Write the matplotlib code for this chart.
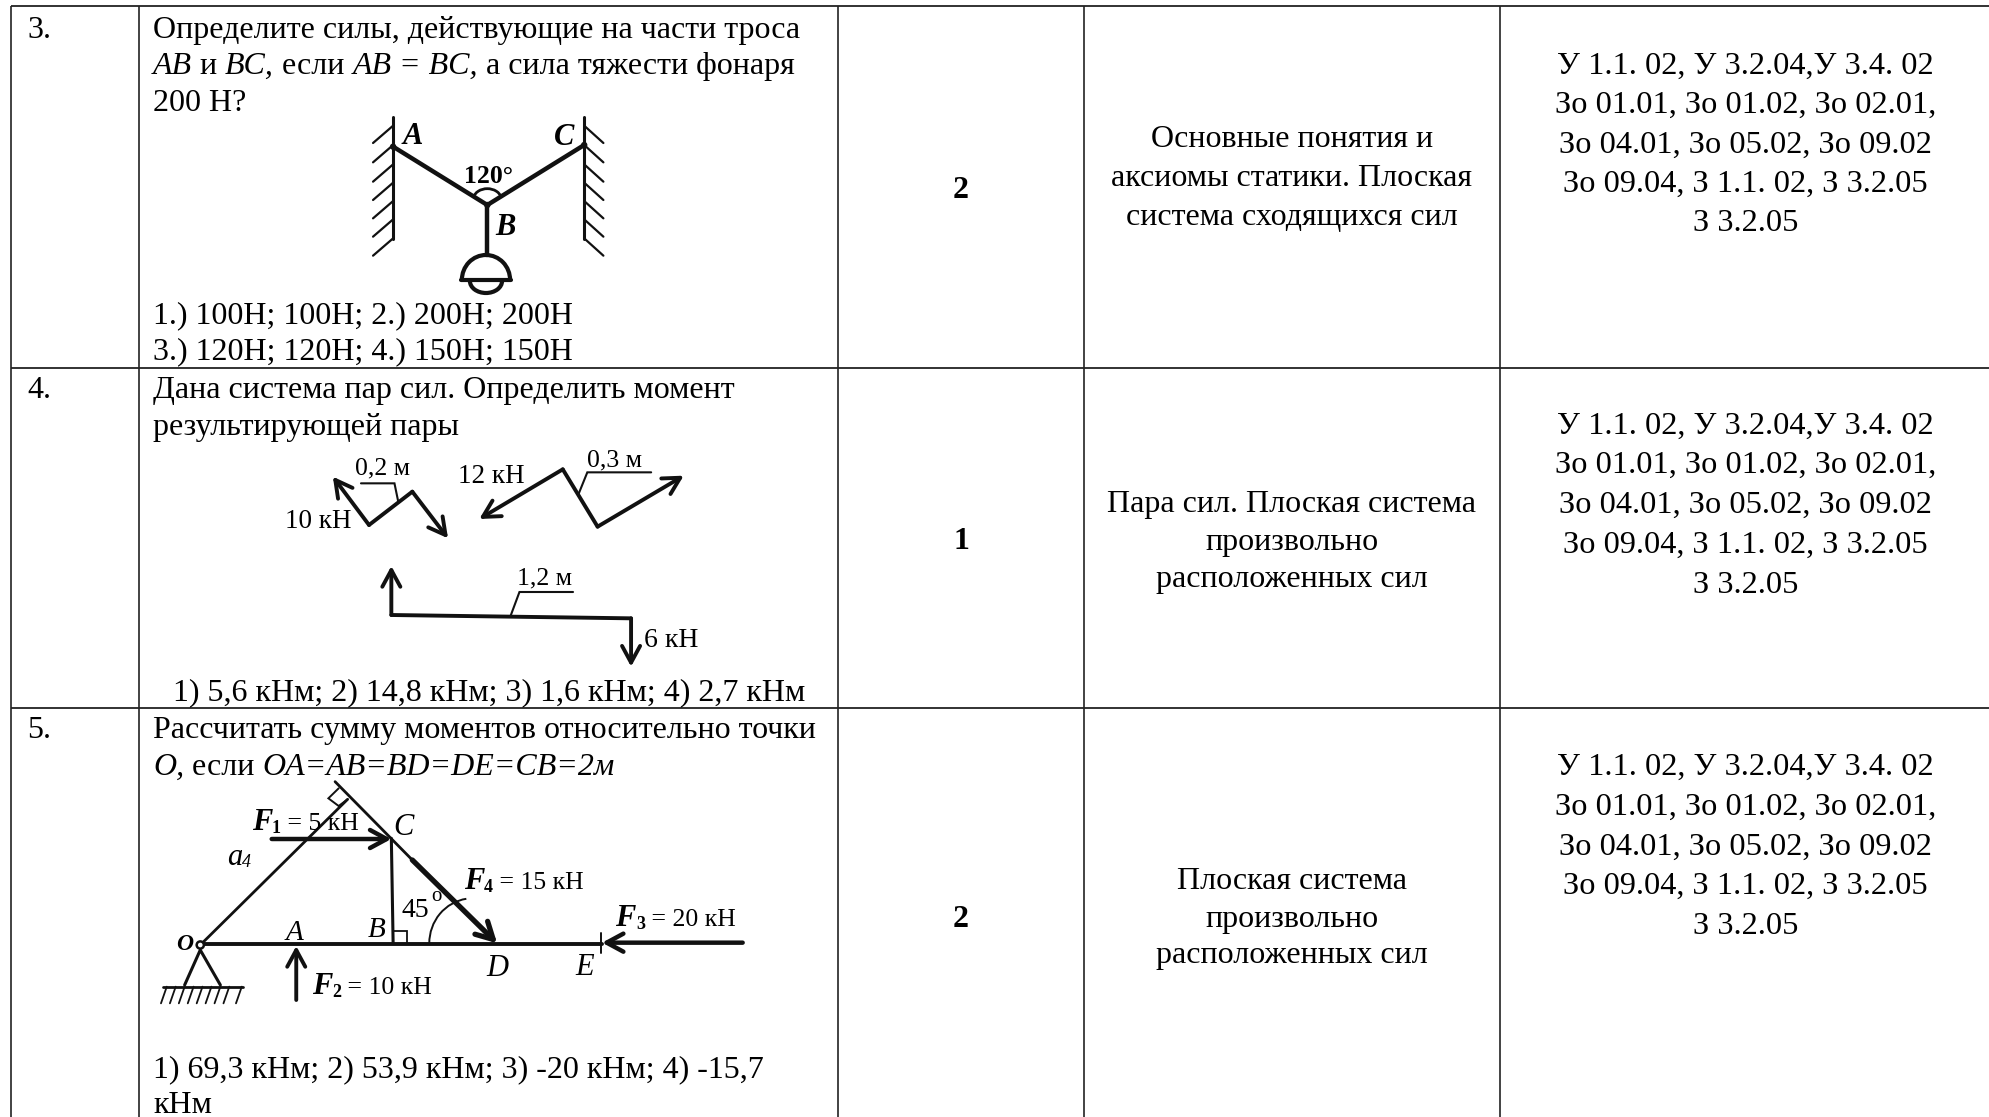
import matplotlib
matplotlib.use("Agg")
import matplotlib.pyplot as plt
from matplotlib.patches import Arc, Circle

W, H = 1989, 1117
SERIF = "Liberation Serif"
FS = 23.0
FS_CODES = 23.3
INK = "#111111"

# ---- table grid (pixels) ----
col_x = [11, 139, 838, 1084, 1500]
row_y = [6, 368, 708]

# ---- table text ----
row_numbers = ["3.", "4.", "5."]
number_baselines = [38, 398, 738]
scores = ["2", "1", "2"]
score_baselines = [198, 549, 927]
topics = [
    ["Основные понятия и", "аксиомы статики. Плоская", "система сходящихся сил"],
    ["Пара сил. Плоская система", "произвольно", "расположенных сил"],
    ["Плоская система", "произвольно", "расположенных сил"],
]
topic_baselines = [[147, 186, 225], [512, 550, 587], [889, 927, 963]]
codes = [
    "У 1.1. 02, У 3.2.04,У 3.4. 02",
    "Зо 01.01, Зо 01.02, Зо 02.01,",
    "Зо 04.01, Зо 05.02, Зо 09.02",
    "Зо 09.04, З 1.1. 02, З 3.2.05",
    "З 3.2.05",
]
code_baselines = [[74, 113, 153, 192, 231], [434, 473, 513, 553, 593], [775, 815, 855, 894, 934]]

question_lines = [
    (153, 38, [("Определите силы, действующие на части троса", "n")]),
    (153, 74, [("AB", "i"), (" и ", "n"), ("BC,", "i"), (" если ", "n"), ("AB = BC,", "i"), (" а сила тяжести фонаря", "n")]),
    (153, 111, [("200 Н?", "n")]),
    (153, 323, [("1.) 100Н; 100Н; 2.) 200Н; 200Н", "n")]),
    (153, 359, [("3.) 120Н; 120Н; 4.) 150Н; 150Н", "n")]),
    (153, 398, [("Дана система пар сил. Определить момент", "n")]),
    (153, 435, [("результирующей пары", "n")]),
    (173, 700, [("1) 5,6 кНм; 2) 14,8 кНм; 3) 1,6 кНм; 4) 2,7 кНм", "n")]),
    (153, 738, [("Рассчитать сумму моментов относительно точки", "n")]),
    (153, 775, [("О,", "i"), (" если ", "n"), ("OA=AB=BD=DE=CB=2м", "i")]),
    (153, 1077, [("1) 69,3 кНм; 2) 53,9 кНм; 3) -20 кНм; 4) -15,7", "n")]),
    (153, 1113, [("кНм", "n")]),
]

fig = plt.figure(figsize=(W / 100, H / 100), dpi=100, facecolor="white")
ax = fig.add_axes([0, 0, 1, 1])
ax.set_xlim(0, W)
ax.set_ylim(H, 0)
ax.axis("off")
renderer = fig.canvas.get_renderer()

STY = {"n": ("normal", "normal"), "i": ("italic", "normal"), "b": ("normal", "bold"), "bi": ("italic", "bold")}


def put(x, y, s, style="n", size=FS, ha="left", va="baseline", color="black"):
    st, wt = STY[style]
    return ax.text(x, y, s, family=SERIF, fontsize=size, style=st, weight=wt,
                   ha=ha, va=va, color=color)


def width(s, style, size):
    a = put(0, 0, s + "|", style, size)
    b = put(0, 0, "|", style, size)
    w = a.get_window_extent(renderer).width - b.get_window_extent(renderer).width
    a.remove()
    b.remove()
    return w


def runs(x, y, parts, size=FS):
    for p in parts:
        s, style = p[0], p[1]
        sz = p[2] if len(p) > 2 else size
        dy = p[3] if len(p) > 3 else 0
        put(x, y + dy, s, style, sz)
        x += width(s, style, sz)


# grid
for x in col_x:
    ax.plot([x, x], [row_y[0], H], color="#222222", lw=1.2, solid_capstyle="butt")
for y in row_y:
    ax.plot([col_x[0], W], [y, y], color="#222222", lw=1.3, solid_capstyle="butt")

# text cells
for s, y in zip(row_numbers, number_baselines):
    put(27, y, s)
for x, y, parts in question_lines:
    runs(x, y, parts)
for s, y in zip(scores, score_baselines):
    put(961, y, s, "b", ha="center")
for lines, ys in zip(topics, topic_baselines):
    for s, y in zip(lines, ys):
        put(1292, y, s, ha="center")
for ys in code_baselines:
    for s, y in zip(codes, ys):
        put(1745.5, y, s, size=FS_CODES, ha="center")


class Diagram:
    def __init__(self, x0, y0):
        self.x0, self.y0 = x0, y0

    def p(self, x, y):
        return self.x0 + x / 2.24, self.y0 + y / 3

    def line(self, pts, lw=2.8):
        xs, ys = zip(*[self.p(*q) for q in pts])
        ax.plot(xs, ys, color=INK, lw=lw, solid_capstyle="round", solid_joinstyle="miter")

    def arrow(self, a, b, lw=2.8, hl=1.2, hw=0.65):
        ax.annotate("", xy=self.p(*b), xytext=self.p(*a),
                    arrowprops=dict(arrowstyle=f"->,head_length={hl},head_width={hw}",
                                    color=INK, lw=lw, shrinkA=0, shrinkB=0,
                                    mutation_scale=10))

    def arc(self, cx, cy, rx, ry, t1, t2, lw=2.4):
        c = self.p(cx, cy)
        ax.add_patch(Arc(c, 2 * rx / 2.24, 2 * ry / 3, theta1=t1, theta2=t2, color=INK, lw=lw))

    def dot(self, x, y, r=3.2, fill=INK, lw=0):
        ax.add_patch(Circle(self.p(x, y), r, facecolor=fill, edgecolor=INK, lw=lw, zorder=4))

    def label(self, x, y, s, style="bi", size=19, ha="center"):
        px, py = self.p(x, y)
        put(px, py, s, style, size, ha=ha)

    def rich(self, x, y, parts, size=19):
        px, py = self.p(x, y)
        runs(px, py, parts, size)


# lamp on a cable
d1 = Diagram(140, 100)
wall_hatch_y = [77, 135, 193, 248, 303, 358, 415]
d1.line([(567, 50), (567, 418)], 2.2)
d1.line([(995, 50), (995, 418)], 2.2)
for y in wall_hatch_y:
    d1.line([(567, y), (522, y + 52)], 1.6)
    d1.line([(995, y), (1038, y + 52)], 1.6)
d1.line([(567, 140), (778, 315)], 3.2)
d1.line([(995, 135), (778, 315)], 3.2)
d1.line([(778, 315), (778, 465)], 3.2)
for q in [(567, 140), (995, 135), (778, 315)]:
    d1.dot(*q)
d1.arc(778, 300, 32, 34, 190, 350, 2.0)
d1.arc(775, 540, 54, 75, 180, 360, 3.0)
d1.line([(720, 540), (830, 540)], 3.0)
d1.arc(775, 543, 36, 36, 0, 180, 3.0)
d1.label(612, 132, "A", size=22)
d1.label(950, 134, "C", size=22)
d1.label(818, 405, "B", size=22)
d1.label(780, 250, "120°", "b", 18.5)

# force couples
d2 = Diagram(140, 430)
d2.arrow((513, 285), (432, 140))
d2.line([(513, 285), (610, 185)])
d2.arrow((610, 185), (690, 325))
d2.line([(495, 160), (570, 160), (578, 212)], 1.5)
d2.arrow((947, 118), (760, 267))
d2.line([(947, 118), (1025, 290)])
d2.arrow((1025, 290), (1218, 137))
d2.line([(983, 190), (1002, 127), (1145, 127)], 1.5)
d2.arrow((563, 555), (563, 408))
d2.line([(563, 555), (1100, 565)])
d2.arrow((1100, 565), (1100, 710))
d2.line([(830, 558), (850, 486), (970, 486)], 1.5)
d2.label(543, 133, "0,2 м", "n", 18.5)
d2.label(400, 295, "10 кН", "n", 19.5)
d2.label(1062, 110, "0,3 м", "n", 18.5)
d2.label(788, 160, "12 кН", "n", 19.5)
d2.label(907, 462, "1,2 м", "n", 18.5)
d2.label(1190, 650, "6 кН", "n", 20)

# beam with four forces
d3 = Diagram(140, 770)
d3.line([(135, 525), (465, 88)], 2.0)
d3.line([(437, 35), (610, 270)], 2.0)
d3.line([(465, 88), (445, 108), (422, 85), (445, 55)], 1.4)
d3.line([(563, 205), (567, 520)], 2.2)
d3.line([(135, 522), (1035, 522)], 2.8)
d3.arrow((295, 207), (563, 207), 3.2)
d3.arrow((610, 270), (800, 520), 3.8)
d3.arrow((1350, 518), (1035, 518), 3.2)
d3.line([(1033, 490), (1033, 550)], 1.4)
d3.arrow((350, 690), (350, 528), 2.8)
d3.line([(100, 645), (135, 540), (180, 645)], 2.2)
d3.line([(52, 650), (230, 650)], 2.0)
for x in [60, 80, 100, 120, 140, 160, 180, 200, 228]:
    d3.line([(x, 650), (x - 13, 700)], 1.3)
d3.line([(570, 482), (598, 482), (598, 520)], 1.3)
d3.arc(745, 520, 97, 135, 180, 262, 1.4)
d3.dot(135, 525, 3.6, "white", 1.8)
d3.label(100, 540, "O", "bi", 17)
d3.label(347, 510, "A", "i", 21)
d3.label(530, 500, "B", "i", 21)
d3.label(590, 194, "C", "i", 22)
d3.label(800, 617, "D", "i", 22)
d3.label(995, 614, "E", "i", 22)
d3.rich(195, 285, [("a", "i", 22), ("4", "i", 13, 2)])
d3.rich(250, 180, [("F", "bi", 22), ("1", "b", 13, 3), (" = 5 кН", "n", 18.5)])
d3.rich(385, 672, [("F", "bi", 22), ("2", "b", 13, 3), (" = 10 кН", "n", 18.5)])
d3.rich(1065, 468, [("F", "bi", 22), ("3", "b", 13, 3), (" = 20 кН", "n", 18.5)])
d3.rich(725, 358, [("F", "bi", 22), ("4", "b", 13, 3), (" = 15 кН", "n", 18.5)])
d3.label(617, 442, "45", "n", 20)
d3.label(665, 392, "o", "n", 15)

fig.savefig("out.png", dpi=100, facecolor="white")
